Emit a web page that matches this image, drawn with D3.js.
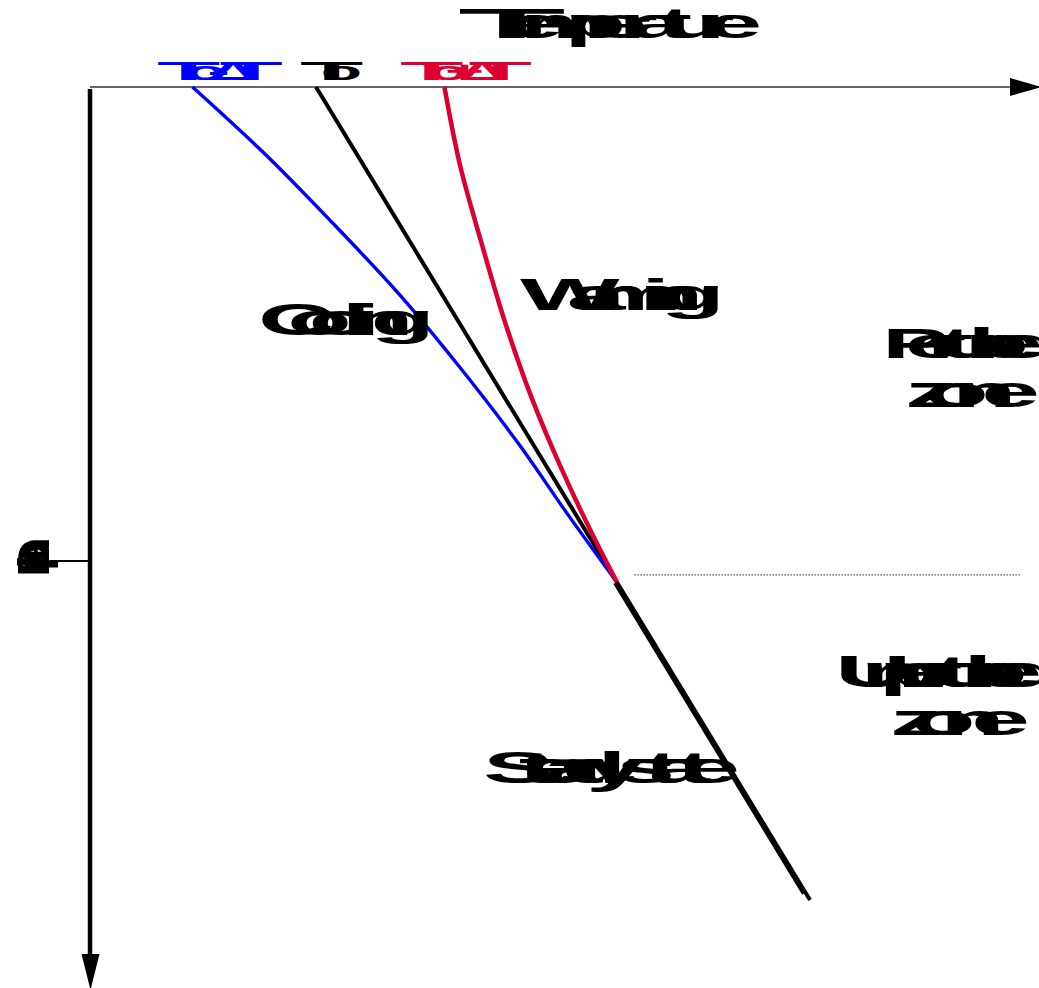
<!DOCTYPE html>
<html>
<head>
<meta charset="utf-8">
<script src="https://cdn.jsdelivr.net/npm/d3@7"></script>
<style>
  html, body { margin: 0; padding: 0; background: #fff; }
  svg { display: block; }
</style>
</head>
<body>
<svg id="chart" width="1039" height="988"></svg>
<script>
// Steady-state geotherm: temperature rises linearly with depth
const steadyDepth = [0, 100];
const steadyTemp = [10, 30];

// Surface cooled by ΔT: perturbed profile bends back to the geotherm
const coolingDepth = [0, 8, 16.4, 25.6, 34.2, 43.8, 52.6, 61];
const coolingTemp = [5.0, 7.85, 10.57, 13.4, 15.75, 18.18, 20.2, 22.2];

// Surface warmed by ΔT
const warmingDepth = [0, 9.6, 19.4, 28.9, 38.3, 47.1, 55.7, 61];
const warmingTemp = [15.2, 15.83, 16.72, 17.65, 18.74, 19.96, 21.3, 22.2];

// Below the perturbation every profile follows the geotherm
const unperturbedDepth = [61, 99.2];
const unperturbedTemp = [22.2, 29.84];

// Base of the perturbed zone
const perturbationDepth = 60;
const perturbationTempRange = [22.9, 38.5];

// Surface temperatures and their labels
const surfaceTemps = [5, 10, 15.2];
const surfaceLabels = ["To-ΔT", "To", "To+ΔT"];
const surfaceColors = ["#0000ff", "#000000", "#dc0030"];

const zoneLabels = ["Perturbed", "zone", "Unperturbed", "zone"];
const curveLabels = ["Cooling", "Warming", "Steady state"];
const axisLabels = ["Temperature", "Depth"];

const svg = d3.select("#chart");

const x = d3.scaleLinear().domain([0, 40]).range([69, 1057]);
const y = d3.scaleLinear().domain([0, 100]).range([87, 900]);

const zip = (ds, ts) => ds.map((d, i) => ({ depth: d, temp: ts[i] }));

const line = d3.line()
  .x(d => x(d.temp))
  .y(d => y(d.depth))
  .curve(d3.curveMonotoneY);

// Axes drawn as arrows along the top and the left edge
const axisG = svg.append("g");
axisG.append("line")
  .attr("x1", 90).attr("y1", 87).attr("x2", 1012).attr("y2", 87)
  .attr("stroke", "#333").attr("stroke-width", 1.6);
axisG.append("path")
  .attr("d", "M1010,78 L1042,87 L1010,96 Z")
  .attr("fill", "#000");
axisG.append("line")
  .attr("x1", 90).attr("y1", 89).attr("x2", 90).attr("y2", 958)
  .attr("stroke", "#000").attr("stroke-width", 4.5);
axisG.append("path")
  .attr("d", "M81.5,954 L90.5,990 L99.5,954 Z")
  .attr("fill", "#000");
// leader from the depth label to the axis
axisG.append("line")
  .attr("x1", 50).attr("y1", 561).attr("x2", 90).attr("y2", 561)
  .attr("stroke", "#000").attr("stroke-width", 2.2);

// Base of the perturbed zone
svg.append("line")
  .attr("x1", x(perturbationTempRange[0])).attr("x2", x(perturbationTempRange[1]))
  .attr("y1", y(perturbationDepth)).attr("y2", y(perturbationDepth))
  .attr("stroke", "#000").attr("stroke-width", 1.2)
  .attr("stroke-dasharray", "1,2");

// Profiles
svg.append("path")
  .datum(zip(steadyDepth, steadyTemp))
  .attr("d", line).attr("fill", "none")
  .attr("stroke", "#000").attr("stroke-width", 4);

svg.append("path")
  .datum(zip(coolingDepth, coolingTemp))
  .attr("d", line).attr("fill", "none")
  .attr("stroke", surfaceColors[0]).attr("stroke-width", 3.4);

svg.append("path")
  .datum(zip(warmingDepth, warmingTemp))
  .attr("d", line).attr("fill", "none")
  .attr("stroke", surfaceColors[2]).attr("stroke-width", 4.5);

svg.append("path")
  .datum(zip(unperturbedDepth, unperturbedTemp))
  .attr("d", line).attr("fill", "none")
  .attr("stroke", "#000").attr("stroke-width", 4.5)
  .attr("transform", "translate(-2,0)");

// Text set glyph by glyph: wide glyphs packed tightly between x0 and x1
function packedText(parent, text, x0, x1, baseY, size, opts = {}) {
  const sx = opts.sx || 2.4;
  const tScale = opts.tScale || 4;
  const g = parent.append("g")
    .attr("font-family", "'Liberation Sans', Arial, sans-serif")
    .attr("font-size", size)
    .attr("font-weight", opts.weight || "bold")
    .attr("fill", opts.fill || "#000");
  const chars = Array.from(text);
  const probe = g.append("text").attr("visibility", "hidden");
  const widths = chars.map(c => {
    probe.text(c === " " ? "\u00a0" : c);
    return probe.node().getComputedTextLength();
  });
  probe.remove();
  const scales = chars.map(c => (c === "T" ? tScale : sx));
  const w = widths.map((v, i) => v * scales[i]);
  const n = chars.length;
  const nat = [];
  let acc = 0;
  widths.forEach(v => { nat.push(acc + v / 2); acc += v; });
  const c0 = x0 + w[0] / 2;
  const c1 = x1 - w[n - 1] / 2;
  const pos = d3.scaleLinear().domain([nat[0], nat[n - 1]]).range([c0, c1]);
  chars.forEach((c, i) => {
    if (c === " ") return;
    const cx = n > 1 ? pos(nat[i]) : (x0 + x1) / 2;
    g.append("text")
      .attr("text-anchor", "middle")
      .attr("transform", `translate(${cx},${baseY}) scale(${scales[i]},1)`)
      .text(c);
  });
  return g;
}

const textG = svg.append("g");

packedText(textG, axisLabels[0], 458, 762, 38, 42, { tScale: 4.2 });

const surfaceSpans = [[157, 283], [300, 362], [400, 532]];
surfaceLabels.forEach((lab, i) => {
  packedText(textG, lab, surfaceSpans[i][0], surfaceSpans[i][1], 80, 26,
    { fill: surfaceColors[i], sx: 2.6 });
});

packedText(textG, curveLabels[0], 258, 435, 335, 44);
packedText(textG, curveLabels[1], 520, 725, 310, 44);
packedText(textG, curveLabels[2], 483, 740, 783, 44);

packedText(textG, zoneLabels[0], 882, 1062, 358, 42);
packedText(textG, zoneLabels[1], 905, 1040, 407, 44);
packedText(textG, zoneLabels[2], 835, 1062, 687, 44);
packedText(textG, zoneLabels[3], 890, 1030, 735, 44);

const depthG = textG.append("g").attr("transform", "translate(49,557) rotate(-90)");
packedText(depthG, axisLabels[1], -20, 20, 0, 44, { sx: 1.2 });
</script>
</body>
</html>
